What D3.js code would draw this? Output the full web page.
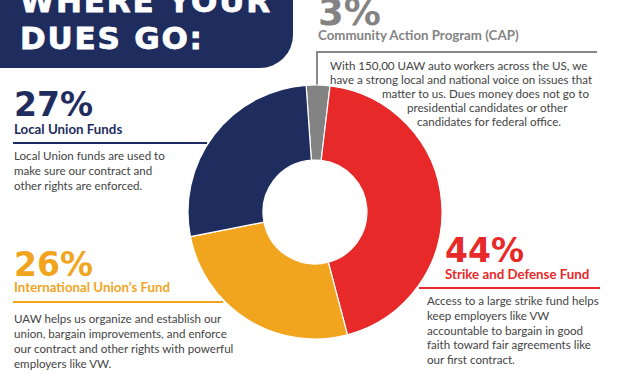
<!DOCTYPE html>
<html lang="en">
<head>
    <meta charset="utf-8">
    <title>Where Your Dues Go</title>
    <style type="text/css">
        body { margin: 0; background: #fff; }
        svg { display: block; font-family: Lato, "Open Sans", sans-serif; }
        .pct { font-family: "DejaVu Sans", sans-serif; font-weight: 700; }
        .name { font-weight: 700; font-size: 13.3px; }
        .body { fill: #444; font-size: 11.6px; }
        .slice { stroke: #fff; stroke-width: 1.2; }
    </style>
</head>
<body>
<div id="chart"></div>

<script src="https://d3js.org/d3.v7.min.js"></script>
<script type="text/javascript">

    // data (slice order clockwise from top)
    var categories = ["Community Action Program (CAP)", "Strike and Defense Fund", "International Union\u2019s Fund", "Local Union Funds"];
    var values = [3, 44, 26, 27];
    var pctLabels = ["3%", "44%", "26%", "27%"];
    var descCap = ["With 150,00 UAW auto workers across the US, we",
        "have a strong local and national voice on issues that",
        "matter to us. Dues money does not go to",
        "presidential candidates or other",
        "candidates for federal office."];
    var descStrike = ["Access to a large strike fund helps", "keep employers like VW",
        "accountable to bargain in good", "faith toward fair agreements like", "our first contract."];
    var descIntl = ["UAW helps us organize and establish our", "union, bargain improvements, and enforce",
        "our contract and other rights with powerful", "employers like VW."];
    var descLocal = ["Local Union funds are used to", "make sure our contract and", "other rights are enforced."];
    var titleLines = ["WHERE YOUR", "DUES GO:"];

    var width = 620, height = 375;
    var color = d3.scaleOrdinal()
            .domain(categories)
            .range(["#838383", "#e8292a", "#f1a51f", "#1f2d5e"]);

    var svg = d3.select("#chart").append("svg")
            .attr("width", width)
            .attr("height", height);

    // title box with rounded bottom-right corner
    var bw = 293, bh = 68, br = 33;
    svg.append("path")
            .attr("d", "M0,0H" + bw + "V" + (bh - br) + "A" + br + "," + br + " 0 0 1 " + (bw - br) + "," + bh + "H0Z")
            .attr("fill", "#1f2d5e");
    svg.selectAll(".title").data(titleLines).enter().append("text")
            .attr("class", "title")
            .attr("x", 20)
            .attr("y", function(d, i) { return 12 + i * 37; })
            .attr("fill", "#fff")
            .attr("stroke", "#fff")
            .attr("stroke-width", 0.8)
            .style("font-family", "'DejaVu Sans', sans-serif")
            .style("font-weight", "700")
            .style("font-size", "31px")
            .style("letter-spacing", "1.8px")
            .text(function(d) { return d; });

    // CAP bracket lines
    svg.append("path")
            .attr("d", "M317,88V52H597")
            .attr("fill", "none")
            .attr("stroke", "#888")
            .attr("stroke-width", 2);

    // donut
    var cx = 315, cy = 212, rOuter = 127, rInner = 52;
    var a0 = -0.07;
    var pie = d3.pie().sort(null).startAngle(a0).endAngle(a0 + 2 * Math.PI);
    var arc = d3.arc().innerRadius(rInner).outerRadius(rOuter);

    var g = svg.append("g").attr("transform", "translate(" + cx + "," + cy + ")");
    g.selectAll(".slice")
            .data(pie(values))
            .enter().append("path")
            .attr("class", "slice")
            .attr("fill", function(d, i) { return color(categories[i]); })
            .attr("d", arc);

    // label blocks
    function block(opts) {
        var c = color(categories[opts.i]);
        svg.append("text").attr("class", "pct")
                .attr("x", opts.x).attr("y", opts.pctY)
                .attr("fill", c).style("font-size", opts.pctSize + "px")
                .text(pctLabels[opts.i]);
        svg.append("text").attr("class", "name")
                .attr("x", opts.x).attr("y", opts.nameY)
                .attr("fill", c)
                .text(categories[opts.i]);
        if (opts.line) {
            svg.append("line")
                    .attr("x1", opts.line[0]).attr("x2", opts.line[1])
                    .attr("y1", opts.line[2]).attr("y2", opts.line[2])
                    .attr("stroke", c).attr("stroke-width", 2);
        }
        svg.selectAll(null).data(opts.lines).enter().append("text")
                .attr("class", "body")
                .attr("x", function(d, k) { return opts.bodyX ? opts.bodyX[k] : opts.x; })
                .attr("y", function(d, k) { return opts.bodyY + k * opts.lh; })
                .text(function(d) { return d; });
    }

    block({i: 3, x: 14, pctY: 116, pctSize: 33, nameY: 134, line: [13, 207, 143],
        lines: descLocal, bodyY: 160, lh: 15});
    block({i: 2, x: 14, pctY: 276, pctSize: 33, nameY: 292, line: [13, 223, 302],
        lines: descIntl, bodyY: 323, lh: 15});
    block({i: 1, x: 445, pctY: 262, pctSize: 33, nameY: 279, line: [419, 600, 288],
        lines: descStrike, bodyY: 305, lh: 14.8, bodyX: [427, 427, 427, 427, 427]});
    block({i: 0, x: 318, pctY: 25, pctSize: 37, nameY: 40,
        lines: descCap, bodyY: 70, lh: 14, bodyX: [330, 330, 382, 407, 417]});

</script>
</body>
</html>
